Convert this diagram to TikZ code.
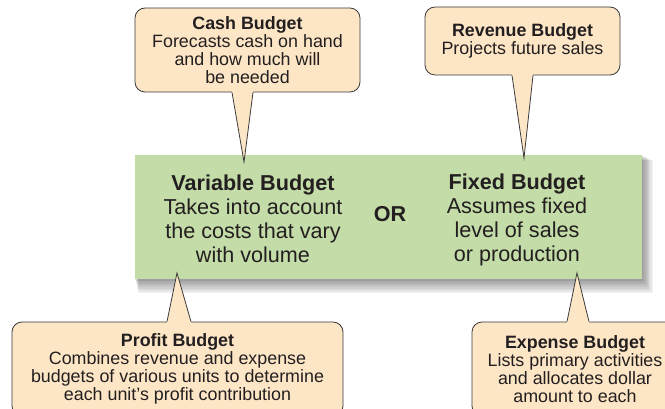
\documentclass[tikz,border=0pt]{standalone}
\usepackage{fontspec}
\setmainfont{Liberation Sans}
\usetikzlibrary{calc}
\definecolor{peach}{HTML}{FDE6C6}
\definecolor{leaf}{HTML}{C4DCA7}
\definecolor{ink}{HTML}{231F20}
\definecolor{rim}{HTML}{3A3A3A}
\begin{document}
\begin{tikzpicture}[x=0.75pt,y=-0.75pt,
    bubble/.style={draw=rim,line width=0.6pt,fill=peach,rounded corners=7.5pt,text=ink,align=center,
        font=\fontsize{13.4}{13.6}\selectfont,inner sep=0pt},
    rimline/.style={draw=rim,line width=0.6pt,line join=miter},
    big/.style={text=ink,align=center,font=\fontsize{16.2}{18}\selectfont}]
    \useasboundingbox (0,0) rectangle (665,409);
    \foreach \i in {1,...,9}
        \fill [black,opacity=0.05] (135+0.4*\i,155+0.6*\i) rectangle (642+1.2*\i,279+1.6*\i);
    \node [fill=leaf,minimum width=380.25pt,minimum height=93pt,inner sep=0pt] (plan) at (388.5,217) {};
    \node [big] (variable) at (253,219) {\textbf{Variable Budget}\\Takes into account\\the costs that vary\\with volume};
    \node [big] (fixed) at (517,220) {\textbf{Fixed Budget}\\Assumes fixed\\level of sales\\or production};
    \node [big] (or) at (390,214) {\textbf{OR}};
    \node [bubble,minimum width=168.75pt,minimum height=63pt] (cash) at (247.5,50) {\textbf{Cash Budget}\\Forecasts cash on hand\\and how much will\\be needed};
    \node [bubble,minimum width=146.25pt,minimum height=51pt] (revenue) at (522.5,41) {\textbf{Revenue Budget}\\Projects future sales};
    \node [bubble,minimum width=248.25pt,minimum height=70.5pt] (profit) at (177.5,369) {\textbf{Profit Budget}\\Combines revenue and expense\\budgets of various units to determine\\each unit’s profit contribution};
    \node [bubble,minimum width=154.5pt,minimum height=70.5pt] (expense) at (575,369) {\textbf{Expense Budget}\\Lists primary activities\\and allocates dollar\\amount to each};
    \coordinate (cashtip) at (244,162);
    \coordinate (revenuetip) at (524,158);
    \coordinate (profittip) at (177,273);
    \coordinate (expensetip) at (577,273);
    \fill [peach] ($(cash.south)+(-15.5,-3)$) -- ($(cash.south)+(-15.5,0)$) -- (cashtip) -- ($(cash.south)+(5.5,0)$) -- ($(cash.south)+(5.5,-3)$) -- cycle;
    \draw [rimline] ($(cash.south)+(-15.5,0)$) -- (cashtip) -- ($(cash.south)+(5.5,0)$);
    \fill [peach] ($(revenue.south)+(-10.5,-3)$) -- ($(revenue.south)+(-10.5,0)$) -- (revenuetip) -- ($(revenue.south)+(10.5,0)$) -- ($(revenue.south)+(10.5,-3)$) -- cycle;
    \draw [rimline] ($(revenue.south)+(-10.5,0)$) -- (revenuetip) -- ($(revenue.south)+(10.5,0)$);
    \fill [peach] ($(profit.north)+(-10.5,3)$) -- ($(profit.north)+(-10.5,0)$) -- (profittip) -- ($(profit.north)+(13.5,0)$) -- ($(profit.north)+(13.5,3)$) -- cycle;
    \draw [rimline] ($(profit.north)+(-10.5,0)$) -- (profittip) -- ($(profit.north)+(13.5,0)$);
    \fill [peach] ($(expense.north)+(-8,3)$) -- ($(expense.north)+(-8,0)$) -- (expensetip) -- ($(expense.north)+(14,0)$) -- ($(expense.north)+(14,3)$) -- cycle;
    \draw [rimline] ($(expense.north)+(-8,0)$) -- (expensetip) -- ($(expense.north)+(14,0)$);
\end{tikzpicture}
\end{document}
